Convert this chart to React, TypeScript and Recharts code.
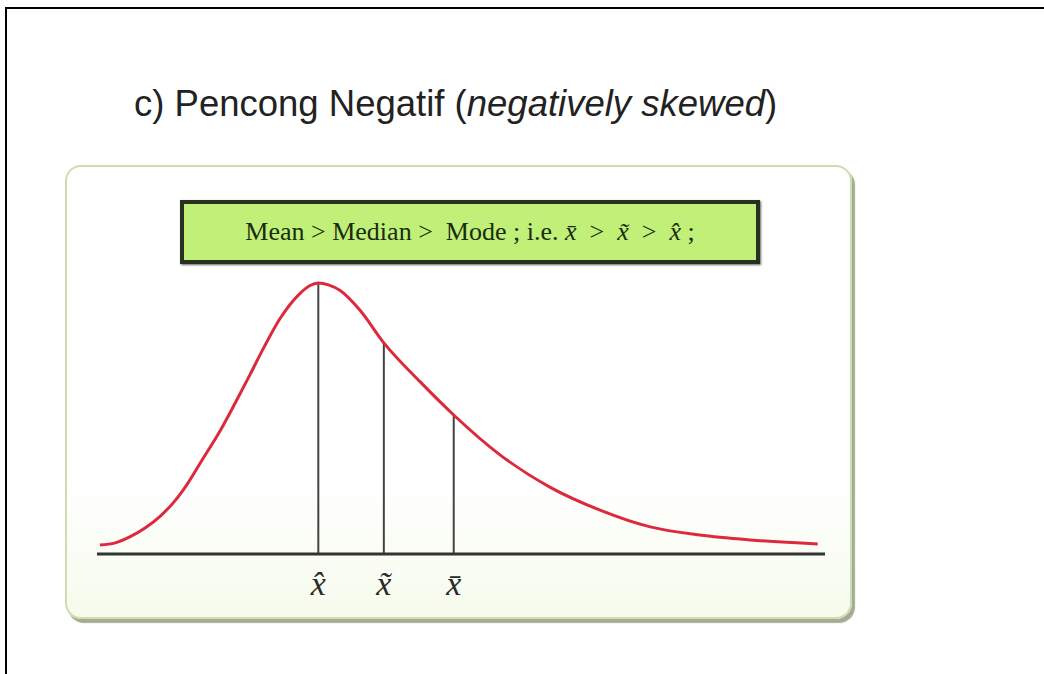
import React from "react";
import { LineChart, Line, XAxis, YAxis, ReferenceLine } from "recharts";

// Skewed density curve sampled along a 0–100 horizontal scale
const curveX = [0.4, 2.5, 4.5, 6.6, 8.7, 10.7, 12.4, 14.6, 16.9, 19.0, 21.0, 23.0, 25.1, 27.9, 29.2, 30.4, 31.8, 33.4, 36.1, 39.4, 44.4, 49.0, 55.4, 62.2, 69.1, 76.0, 82.8, 89.7, 99.0];
const curveY = [0.033, 0.041, 0.063, 0.096, 0.140, 0.196, 0.258, 0.354, 0.454, 0.558, 0.661, 0.766, 0.867, 0.962, 0.99, 1.0, 0.993, 0.972, 0.9, 0.779, 0.635, 0.513, 0.365, 0.247, 0.162, 0.1, 0.07, 0.052, 0.037];

// Mode, median and mean positions with the curve height at each
const measureNames = ["mode", "median", "mean"];
const measureX = [30.4, 39.4, 49.0];
const measureY = [1.0, 0.779, 0.513];
const measureLabels = ["x\u0302", "x\u0303", "x\u0304"];

const titleText = "c) Pencong Negatif (";
const titleItalic = "negatively skewed";
const titleEnd = ")";
const boxLead = "Mean > Median >  Mode ; i.e. ";
const boxSymbols = ["x\u0304", "x\u0303", "x\u0302"];

const data = curveX.map((x, i) => ({ x, y: curveY[i] }));

const labelFor = (v: number) => {
  const i = measureX.indexOf(v);
  return i >= 0 ? measureLabels[i] : "";
};

const MeasureTick = (props: any) => {
  const { x, y, payload } = props;
  return (
    <text
      x={x}
      y={y + 33}
      textAnchor="middle"
      fontFamily="'Liberation Serif', 'DejaVu Serif', serif"
      fontStyle="italic"
      fontSize={34}
      fill="#2a2a2a"
    >
      {labelFor(payload.value)}
    </text>
  );
};

export default function App() {
  const W = 1044;
  const H = 674;
  return (
    <div style={{ position: "absolute", left: 0, top: 0, width: W, height: H, background: "#fff", overflow: "hidden" }}>
      {/* frame lines */}
      <div style={{ position: "absolute", left: 5, top: 7, width: W - 5, height: 2, background: "#000" }} />
      <div style={{ position: "absolute", left: 5, top: 7, width: 2, height: H - 7, background: "#000" }} />

      {/* heading */}
      <svg width={W} height={140} style={{ position: "absolute", left: 0, top: 0 }}>
        <text x={134} y={116} fontFamily="'Liberation Sans', Arial, sans-serif" fontSize={36.5} fill="#222">
          {titleText}
          <tspan fontStyle="italic">{titleItalic}</tspan>
          {titleEnd}
        </text>
      </svg>

      {/* rounded panel */}
      <div
        style={{
          position: "absolute",
          left: 65,
          top: 165,
          width: 783,
          height: 450,
          border: "2px solid #cfdcb2",
          borderRadius: 16,
          background: "linear-gradient(#ffffff 0%, #ffffff 70%, #f6fbec 100%)",
          boxShadow: "3px 4px 1px #a3ad93",
        }}
      />

      {/* statement box */}
      <div
        style={{
          position: "absolute",
          left: 180,
          top: 200,
          width: 572,
          height: 56,
          border: "4px solid #28301f",
          background: "#c0f078",
          boxShadow: "1px 1px 2px #666",
          display: "flex",
          alignItems: "center",
          justifyContent: "center",
          fontFamily: "'Liberation Serif', 'Times New Roman', serif",
          fontSize: 26,
          color: "#1a2c10",
          whiteSpace: "pre",
        }}
      >
        {boxLead}
        <i>{boxSymbols[0]}</i>
        {"  >  "}
        <i>{boxSymbols[1]}</i>
        {"  >  "}
        <i>{boxSymbols[2]}</i>
        {" ;"}
      </div>

      <div style={{ position: "absolute", left: 0, top: 0 }}>
        <LineChart
          width={W}
          height={H}
          data={data}
          margin={{ top: 283, right: 219, bottom: 90, left: 97 }}
        >
          <XAxis
            dataKey="x"
            type="number"
            domain={[0, 100]}
            ticks={measureX}
            height={30}
            axisLine={{ stroke: "#333", strokeWidth: 3 }}
            tickLine={false}
            tick={<MeasureTick />}
            interval={0}
          />
          <YAxis hide width={0} type="number" domain={[0, 1]} />
          {measureX.map((mx, i) => (
            <ReferenceLine
              key={measureNames[i]}
              segment={[
                { x: mx, y: 0 },
                { x: mx, y: measureY[i] },
              ]}
              stroke="#444"
              strokeWidth={2}
            />
          ))}
          <Line
            type="monotone"
            dataKey="y"
            stroke="#dc2a3c"
            strokeWidth={3}
            dot={false}
            activeDot={false}
            isAnimationActive={false}
          />
        </LineChart>
      </div>
    </div>
  );
}
